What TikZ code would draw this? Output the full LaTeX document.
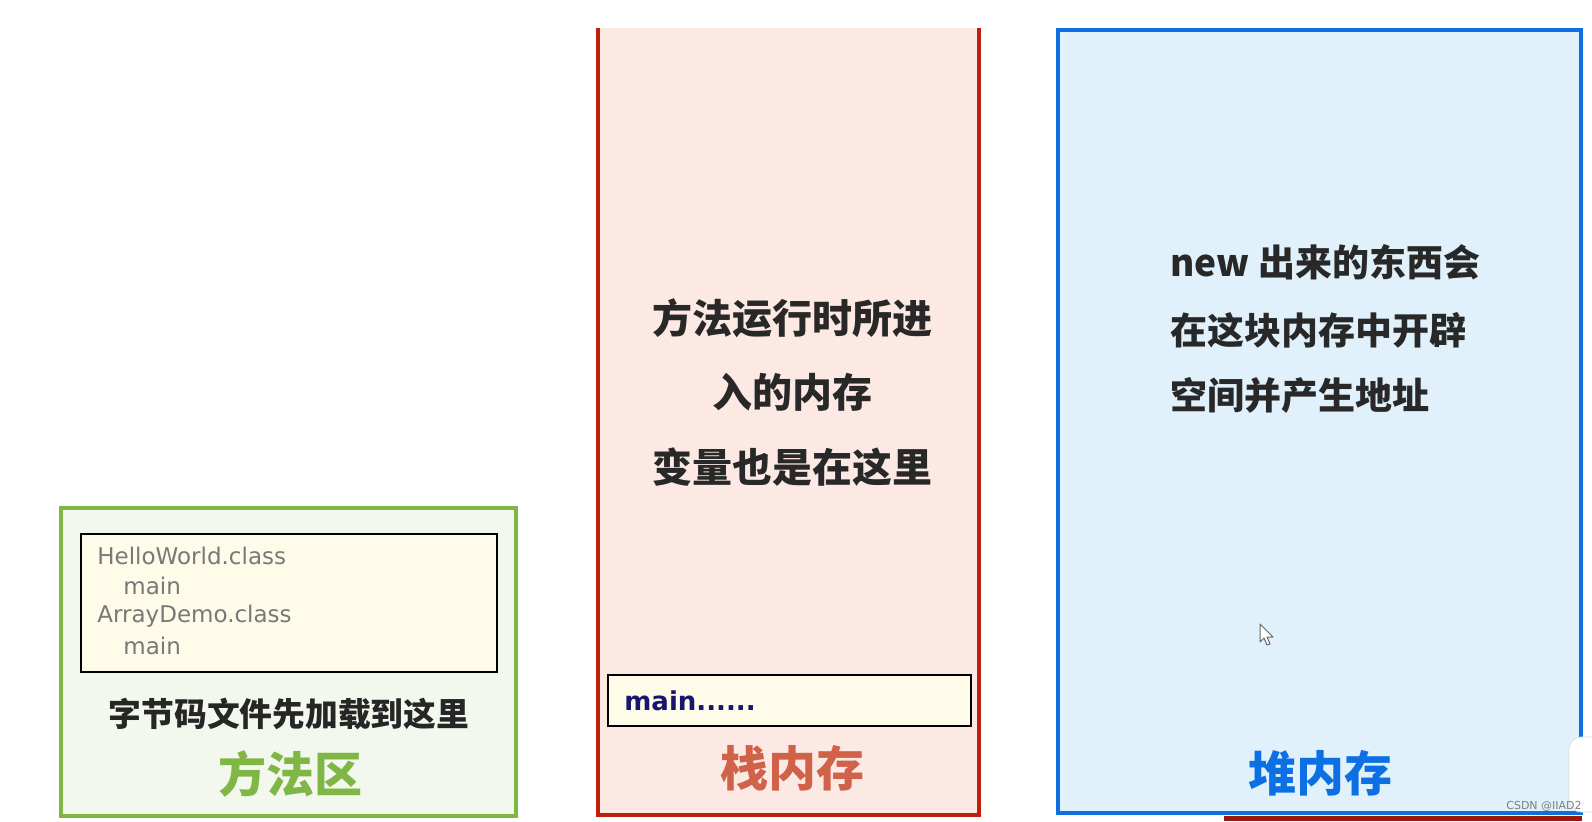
\documentclass[tikz,border=0pt]{standalone}
\usepackage{fontspec}
\setmainfont{DejaVu Sans}
\newfontfamily\cjk{Noto Sans CJK SC}
\definecolor{greenB}{RGB}{128,182,70}
\definecolor{greenF}{RGB}{243,248,238}
\definecolor{yellowF}{RGB}{254,252,232}
\definecolor{redB}{RGB}{190,32,12}
\definecolor{redF}{RGB}{253,233,228}
\definecolor{redT}{RGB}{208,98,74}
\definecolor{blueB}{RGB}{12,112,222}
\definecolor{blueF}{RGB}{225,241,252}
\definecolor{blueT}{RGB}{12,112,228}
\definecolor{navy}{RGB}{22,22,112}
\definecolor{grayT}{RGB}{120,120,120}
\definecolor{darkT}{RGB}{40,40,40}
\tikzset{
  classtxt/.style={anchor=west, inner sep=0pt, text=grayT, font=\fontsize{11.5}{13}\selectfont},
  cjktxt/.style={inner sep=0pt, text=darkT, font=\cjk\bfseries\fontsize{20}{24}\selectfont},
  heaptxt/.style={anchor=west, inner sep=0pt, text=darkT, font=\cjk\bfseries\fontsize{18.5}{22}\selectfont},
  titletxt/.style={inner sep=0pt, font=\cjk\bfseries\fontsize{24}{28}\selectfont},
}
\begin{document}
\begin{tikzpicture}[x=0.5pt,y=-0.5pt]
\useasboundingbox[fill=white] (0,0) rectangle (1592,821);
% ---------- method area ----------
\draw[greenB, fill=greenF, line width=2pt] (61,508) rectangle (516,816);
\draw[black, fill=yellowF, line width=1.1pt] (81,534) rectangle (497,672);
\node[classtxt] (c1) at (97,556) {HelloWorld.class};
\node[classtxt] (c2) at (123,586) {main};
\node[classtxt] (c3) at (97,616) {ArrayDemo.class};
\node[classtxt] (c4) at (123,646) {main};
\node[cjktxt, font=\cjk\bfseries\fontsize{16.4}{20}\selectfont, text=black!85] (m1) at (289,714) {字节码文件先加载到这里};
\node[titletxt, text=greenB] (mt) at (290,774) {方法区};
% ---------- stack ----------
\fill[redF] (597,28) rectangle (980,816);
\draw[redB, line width=2pt] (598,28) -- (598,815) -- (979,815) -- (979,28);
\draw[black, fill=yellowF, line width=1.1pt] (608,675) rectangle (971,726);
\node[anchor=west, inner sep=0pt, text=navy, font=\bfseries\fontsize{13}{15}\selectfont] (sm) at (624,701) {main......};
\node[cjktxt] (s1) at (792,318) {方法运行时所进};
\node[cjktxt] (s2) at (792,392) {入的内存};
\node[cjktxt] (s3) at (792,467) {变量也是在这里};
\node[titletxt, text=redT] (st) at (792,768) {栈内存};
% ---------- heap ----------
\fill[redB!80!black] (1224,816) rectangle (1582,821);
\draw[blueB, fill=blueF, line width=2pt] (1058,30) rectangle (1581,813);
\node[heaptxt] (h1) at (1170,262) {new 出来的东西会};
\node[heaptxt] (h2) at (1170,330) {在这块内存中开辟};
\node[heaptxt] (h3) at (1170,396) {空间并产生地址};
\node[titletxt, text=blueT] (ht) at (1320,773) {堆内存};
% cursor
\draw[gray!80!black, fill=white, line width=0.5pt, line join=round]
  (1260,624) -- (1260,642) -- (1264,638) -- (1267,645) -- (1270,644) -- (1267,637) -- (1273,637) -- cycle;
% overlay at right edge and watermark
\draw[gray!25, fill=white, rounded corners=6pt] (1600,737) -- (1569,737) -- (1569,812) -- (1600,812);
\node[inner sep=0pt, text=gray, font=\fontsize{5.5}{6}\selectfont] (wm) at (1544,806) {CSDN @IIAD2};
\end{tikzpicture}
\end{document}
